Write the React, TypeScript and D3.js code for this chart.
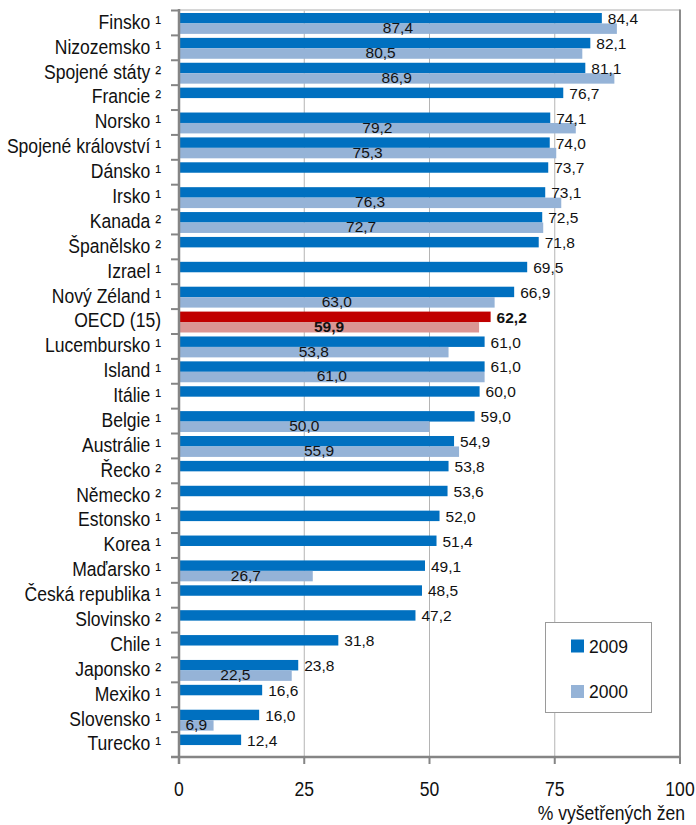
import React from "react";
import * as d3 from "d3";

// Screening coverage by country, 2009 vs 2000 (% of examined women)
const countries = [
  "Finsko ¹", "Nizozemsko ¹", "Spojené státy ²", "Francie ²", "Norsko ¹",
  "Spojené království ¹", "Dánsko ¹", "Irsko ¹", "Kanada ²", "Španělsko ²",
  "Izrael ¹", "Nový Zéland ¹", "OECD (15)", "Lucembursko ¹", "Island ¹",
  "Itálie ¹", "Belgie ¹", "Austrálie ¹", "Řecko ²", "Německo ²",
  "Estonsko ¹", "Korea ¹", "Maďarsko ¹", "Česká republika ¹", "Slovinsko ²",
  "Chile ¹", "Japonsko ²", "Mexiko ¹", "Slovensko ¹", "Turecko ¹",
];

const values2009 = [
  84.4, 82.1, 81.1, 76.7, 74.1, 74.0, 73.7, 73.1, 72.5, 71.8,
  69.5, 66.9, 62.2, 61.0, 61.0, 60.0, 59.0, 54.9, 53.8, 53.6,
  52.0, 51.4, 49.1, 48.5, 47.2, 31.8, 23.8, 16.6, 16.0, 12.4,
];

const values2000: (number | null)[] = [
  87.4, 80.5, 86.9, null, 79.2, 75.3, null, 76.3, 72.7, null,
  null, 63.0, 59.9, 53.8, 61.0, null, 50.0, 55.9, null, null,
  null, null, 26.7, null, null, null, 22.5, null, 6.9, null,
];

const xTicks = [0, 25, 50, 75, 100];
const seriesNames = ["2009", "2000"];
const highlight = "OECD (15)";

const W = 696;
const H = 825;
const left = 179;
const right = 680;
const top = 10.5;
const bottom = 757;

const fmt = (v: number) => v.toFixed(1).replace(".", ",");

const C2009 = "#0070C0";
const C2000 = "#95B3D7";
const H2009 = "#C00000";
const H2000 = "#DA9694";
const FONT = "'Liberation Sans', Arial, Helvetica, sans-serif";
const LABEL_SIZE = 19.5;
const SQUEEZE = 0.9;

export default function App() {
  const x = d3.scaleLinear().domain([0, 100]).range([left, right]);
  const y = d3.scaleBand<string>().domain(countries).range([top, bottom]).padding(0);
  const bh = y.bandwidth();
  const barH = bh * 0.42;
  const off = bh * 0.1;

  return (
    <svg width={W} height={H} style={{ display: "block", position: "absolute", left: 0, top: 0 }} fontFamily={FONT}>
      <rect x={0} y={0} width={W} height={H} fill="#fff" />
      {/* gridlines */}
      {xTicks.slice(1, 4).map((t) => (
        <line key={t} x1={x(t)} x2={x(t)} y1={top} y2={bottom} stroke="#b4b4b4" strokeWidth={1} />
      ))}
      {/* plot frame */}
      <line x1={left} x2={right} y1={top - 0.5} y2={top - 0.5} stroke="#c8c8c8" strokeWidth={1.5} />
      <line x1={right} x2={right} y1={top - 1} y2={bottom} stroke="#8c8c8c" strokeWidth={2} />

      {/* bars */}
      {countries.map((c, i) => {
        const y0 = y(c)!;
        const hl = c === highlight;
        const v2 = values2000[i];
        return (
          <g key={c}>
            <rect x={x(0)} y={y0 + off} width={x(values2009[i]) - x(0)} height={barH} fill={hl ? H2009 : C2009} />
            {v2 != null && (
              <rect x={x(0)} y={y0 + off + barH} width={x(v2) - x(0)} height={barH} fill={hl ? H2000 : C2000} />
            )}
          </g>
        );
      })}

      {/* legend */}
      <rect x={545.5} y={622.5} width={106} height={90} fill="#fff" stroke="#9a9a9a" strokeWidth={1} />
      {seriesNames.map((s, i) => (
        <g key={s}>
          <rect x={571} y={639.5 + i * 45.5} width={13} height={13} fill={i === 0 ? C2009 : C2000} />
          <text x={589} y={652.5 + i * 45.5} fontSize={17.5} fill="#111">{s}</text>
        </g>
      ))}

      {/* value labels */}
      {countries.map((c, i) => {
        const y0 = y(c)!;
        const hl = c === highlight;
        const v2 = values2000[i];
        return (
          <g key={c} fontSize={15.5} fill="#111" fontWeight={hl ? "bold" : "normal"}>
            <text x={x(values2009[i]) + 6} y={y0 + 13.6}>{fmt(values2009[i])}</text>
            {v2 != null && (
              <text x={x(v2 / 2)} y={y0 + 22.6} textAnchor="middle">{fmt(v2)}</text>
            )}
          </g>
        );
      })}

      {/* category axis */}
      <line x1={left} x2={left} y1={top - 1.5} y2={bottom + 7} stroke="#858585" strokeWidth={2.5} />
      {[...countries.map((c) => y(c)!), bottom].map((t, i) => (
        <line key={i} x1={left - 8} x2={left} y1={t} y2={t} stroke="#858585" strokeWidth={2} />
      ))}
      {countries.map((c) => (
        <text
          key={c}
          transform={`translate(161,${y(c)! + 18.3}) scale(${SQUEEZE},1)`}
          textAnchor="end"
          fontSize={LABEL_SIZE}
          fill="#111"
        >
          {c}
        </text>
      ))}

      {/* value axis */}
      <line x1={left - 8} x2={right} y1={bottom} y2={bottom} stroke="#858585" strokeWidth={2.5} />
      {xTicks.map((t) => (
        <g key={t}>
          <line x1={x(t)} x2={x(t)} y1={bottom} y2={bottom + 7} stroke="#858585" strokeWidth={2} />
          <text transform={`translate(${x(t)},795.5) scale(${SQUEEZE},1)`} textAnchor="middle" fontSize={LABEL_SIZE} fill="#111">
            {t}
          </text>
        </g>
      ))}
      <text transform={`translate(685,819.5) scale(${SQUEEZE},1)`} textAnchor="end" fontSize={LABEL_SIZE} fill="#111">
        % vyšetřených žen
      </text>
    </svg>
  );
}
